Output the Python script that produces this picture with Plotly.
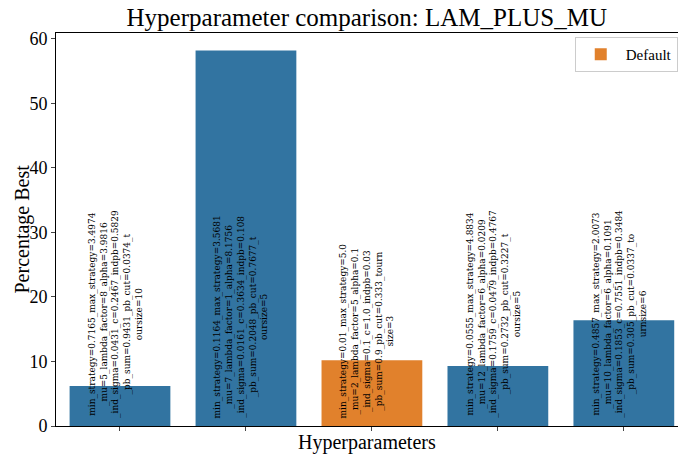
import plotly.graph_objects as go

categories = ["c0", "c1", "c2", "c3", "c4"]
values = [6.2, 58.2, 10.2, 9.3, 16.4]
is_default = [False, False, True, False, False]
labels = [
    "min_strategy=0.7165_max_strategy=3.4974<br>_mu=5_lambda_factor=8_alpha=3.9816<br>_ind_sigma=0.0431_c=0.2467_indpb=0.5829<br>_pb_sum=0.9431_pb_cut=0.0374_t<br>oursize=10",
    "min_strategy=0.1164_max_strategy=3.5681<br>_mu=7_lambda_factor=1_alpha=8.1756<br>_ind_sigma=0.0161_c=0.3634_indpb=0.108<br>_pb_sum=0.2048_pb_cut=0.7677_t<br>oursize=5",
    "min_strategy=0.01_max_strategy=5.0<br>_mu=2_lambda_factor=5_alpha=0.1<br>_ind_sigma=0.1_c=1.0_indpb=0.03<br>_pb_sum=0.9_pb_cut=0.333_tourn<br>size=3",
    "min_strategy=0.0555_max_strategy=4.8834<br>_mu=12_lambda_factor=6_alpha=0.0209<br>_ind_sigma=0.1759_c=0.0479_indpb=0.4767<br>_pb_sum=0.2732_pb_cut=0.3227_t<br>oursize=5",
    "min_strategy=0.4857_max_strategy=2.0073<br>_mu=10_lambda_factor=6_alpha=0.1091<br>_ind_sigma=0.1853_c=0.7551_indpb=0.3484<br>_pb_sum=0.305_pb_cut=0.0337_to<br>urnsize=6",
]

BLUE = "#3274a1"
ORANGE = "#e1812c"
FONT = "Liberation Serif"
LABEL_FONT = "DejaVu Serif"

fig = go.Figure()
fig.add_trace(go.Bar(
    x=[c for c, d in zip(categories, is_default) if not d],
    y=[v for v, d in zip(values, is_default) if not d],
    marker=dict(color=BLUE, line=dict(width=0)),
    width=0.8, showlegend=False, hoverinfo="skip",
))
fig.add_trace(go.Bar(
    x=[c for c, d in zip(categories, is_default) if d],
    y=[v for v, d in zip(values, is_default) if d],
    marker=dict(color=ORANGE, line=dict(width=0)),
    width=0.8, name="Default", showlegend=True,
))

for c, lab in zip(categories, labels):
    fig.add_annotation(
        x=c, y=0, xref="x", yref="y", text=lab, showarrow=False,
        textangle=-90, xanchor="center", yanchor="bottom", yshift=6, xshift=-5,
        align="center", font=dict(family=LABEL_FONT, size=9, color="black"),
    )

fig.add_annotation(x=0.5, y=0, xref="paper", yref="paper", text="Hyperparameters",
                   showarrow=False, xanchor="center", yanchor="middle", yshift=-16,
                   font=dict(family=FONT, size=20, color="black"))
fig.add_annotation(x=0, y=0.5, xref="paper", yref="paper", text="Percentage Best",
                   showarrow=False, xanchor="center", yanchor="middle", xshift=-34,
                   textangle=-90, font=dict(family=FONT, size=20, color="black"))

fig.update_layout(
    width=678, height=456,
    margin=dict(l=56, r=0, t=33, b=30, autoexpand=False),
    barmode="overlay",
    plot_bgcolor="white", paper_bgcolor="white",
    font=dict(family=FONT, color="black"),
    title=dict(text="Hyperparameter comparison: LAM_PLUS_MU", x=0.541, xanchor="center",
               y=0.962, yanchor="middle", font=dict(size=25, family=FONT)),
    legend=dict(x=0.834, xanchor="left", y=0.99, yanchor="top",
                bordercolor="#cccccc", borderwidth=1, bgcolor="white",
                font=dict(size=15, family=FONT), itemwidth=40),
    xaxis=dict(range=[-0.508, 4.43], showticklabels=False, ticks="outside", ticklen=4,
               categoryorder="array", categoryarray=categories, automargin=False,
               showline=True, linecolor="black", linewidth=1, mirror=True,
               showgrid=False),
    yaxis=dict(range=[0, 60.9], tickvals=[0, 10, 20, 30, 40, 50, 60], ticks="outside", ticklen=4,
               showline=True, linecolor="black", linewidth=1, mirror=True, automargin=False,
               showgrid=False, zeroline=False, tickfont=dict(size=18)),
)

fig.write_html("out.html", config={"displayModeBar": False},
               post_script="document.body.style.margin='0';document.body.style.overflow='hidden';")
